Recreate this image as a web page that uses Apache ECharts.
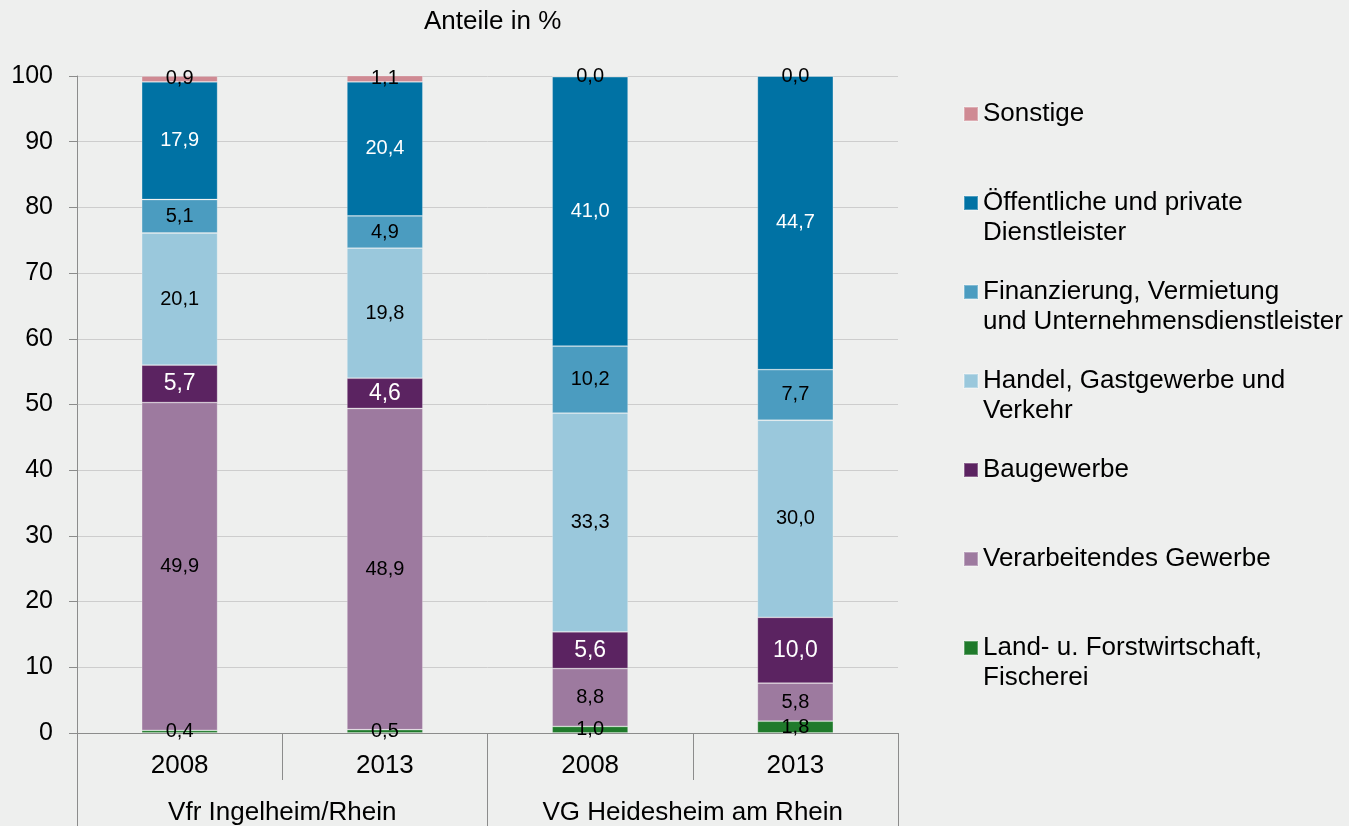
<!DOCTYPE html>
<html>
<head>
<meta charset="utf-8">
<script src="https://cdn.jsdelivr.net/npm/echarts@6/dist/echarts.min.js"></script>
<style>
  html, body { margin: 0; padding: 0; background: #eeefee; }
  #chart { width: 1349px; height: 826px; }
</style>
</head>
<body>
<div id="chart"></div>
<script>
// categories
var years = ['2008', '2013', '2008', '2013'];
var regions = ['Vfr Ingelheim/Rhein', 'VG Heidesheim am Rhein'];
var yTicks = [0, 10, 20, 30, 40, 50, 60, 70, 80, 90, 100];

// series values, bottom to top of each bar
var land = [0.4, 0.5, 1.0, 1.8];
var verarbeitend = [49.9, 48.9, 8.8, 5.8];
var bau = [5.7, 4.6, 5.6, 10.0];
var handel = [20.1, 19.8, 33.3, 30.0];
var finanz = [5.1, 4.9, 10.2, 7.7];
var oeffentlich = [17.9, 20.4, 41.0, 44.7];
var sonstige = [0.9, 1.1, 0.0, 0.0];

var names = {
    land: 'Land- u. Forstwirtschaft,\nFischerei',
    verarbeitend: 'Verarbeitendes Gewerbe',
    bau: 'Baugewerbe',
    handel: 'Handel, Gastgewerbe und\nVerkehr',
    finanz: 'Finanzierung, Vermietung\nund Unternehmensdienstleister',
    oeffentlich: 'Öffentliche und private\nDienstleister',
    sonstige: 'Sonstige'
};

var FONT = '"Liberation Sans", Arial, sans-serif';

function fmt(p) {
    return p.value.toFixed(1).replace('.', ',');
}

function makeSeries(name, data, color, labelColor, labelSize) {
    return {
        name: name,
        type: 'bar',
        stack: 'total',
        data: data,
        barWidth: '37%',
        itemStyle: {
            color: color,
            borderColor: 'rgba(255,255,255,0.3)',
            borderWidth: 0.8
        },
        label: {
            show: true,
            position: 'inside',
            formatter: fmt,
            color: labelColor,
            fontSize: labelSize,
            fontFamily: FONT
        },
        emphasis: { disabled: true }
    };
}

var myChart = echarts.init(document.getElementById('chart'));
var option = {
    backgroundColor: '#eeefee',
    animation: false,
    title: {
        text: 'Anteile in %',
        left: 419,
        top: 4,
        textStyle: { fontSize: 26, fontWeight: 'normal', color: '#000', fontFamily: FONT }
    },
    legend: {
        orient: 'vertical',
        left: 958,
        top: 64,
        itemWidth: 14,
        itemHeight: 14,
        itemGap: -1,
        icon: 'rect',
        data: [names.sonstige, names.oeffentlich, names.finanz, names.handel, names.bau, names.verarbeitend, names.land],
        formatter: function (n) {
            // pad every entry to three lines so the marker sits on the first text line
            return n.indexOf('\n') >= 0 ? '\n' + n : '\n' + n + '\n';
        },
        textStyle: { fontSize: 26, lineHeight: 30, color: '#000', fontFamily: FONT },
        selectedMode: false
    },
    grid: {
        left: 77,
        right: 451,
        top: 76,
        bottom: 91
    },
    xAxis: [{
        type: 'category',
        data: years,
        position: 'bottom',
        axisLine: { show: true, lineStyle: { color: '#8c8c8c', width: 1 } },
        axisTick: { show: true, length: 47, interval: 0, lineStyle: { color: '#8c8c8c' } },
        axisLabel: { fontSize: 26, color: '#000', margin: 20, fontFamily: FONT }
    }, {
        type: 'category',
        data: regions,
        position: 'bottom',
        axisLine: { show: false },
        axisTick: { show: true, length: 100, interval: 0, lineStyle: { color: '#8c8c8c' } },
        axisLabel: { fontSize: 26, color: '#000', margin: 67, fontFamily: FONT }
    }],
    yAxis: {
        type: 'value',
        min: yTicks[0],
        max: yTicks[yTicks.length - 1],
        interval: 10,
        axisLine: { show: true, lineStyle: { color: '#8c8c8c' } },
        axisTick: { show: true, length: 8, lineStyle: { color: '#8c8c8c' } },
        axisLabel: { fontSize: 25, color: '#000', margin: 24, fontFamily: FONT },
        splitLine: { show: true, lineStyle: { color: '#cdcdcd', width: 1 } }
    },
    series: [
        makeSeries(names.land, land, '#1f7a2b', '#000', 20),
        makeSeries(names.verarbeitend, verarbeitend, '#9d7a9f', '#000', 20),
        makeSeries(names.bau, bau, '#5b2361', '#fff', 23),
        makeSeries(names.handel, handel, '#9ac8dc', '#000', 20),
        makeSeries(names.finanz, finanz, '#4b9cc0', '#000', 20),
        makeSeries(names.oeffentlich, oeffentlich, '#0072a4', '#fff', 20),
        makeSeries(names.sonstige, sonstige, '#cf8a93', '#000', 20)
    ]
};
myChart.setOption(option);
</script>
</body>
</html>
